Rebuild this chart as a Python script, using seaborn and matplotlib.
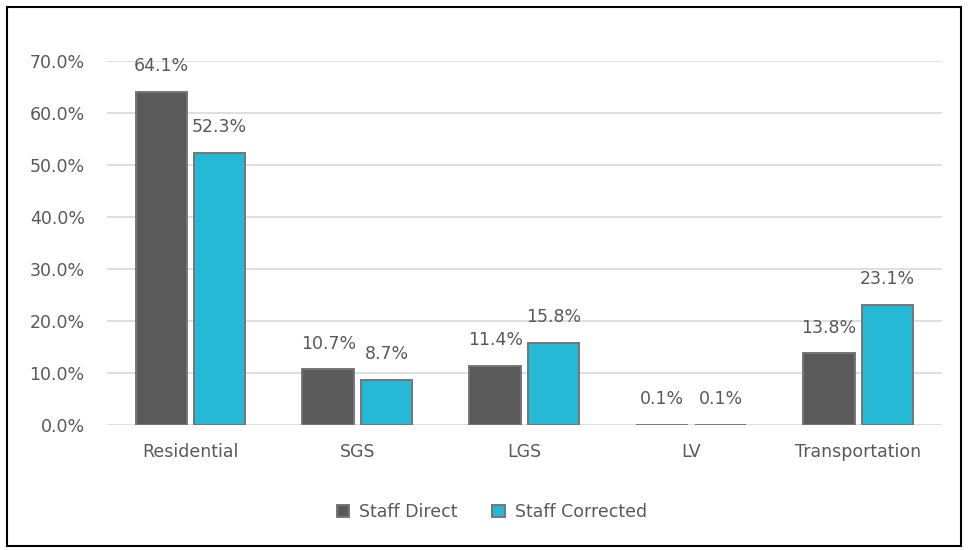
import matplotlib.pyplot as plt
import seaborn as sns
import pandas as pd
from matplotlib.patches import Rectangle
from matplotlib.ticker import FuncFormatter

categories = ["Residential", "SGS", "LGS", "LV", "Transportation"]
staff_direct = [64.1, 10.7, 11.4, 0.1, 13.8]
staff_corrected = [52.3, 8.7, 15.8, 0.1, 23.1]
series = ["Staff Direct", "Staff Corrected"]

df = pd.DataFrame({
    "cat": categories * 2,
    "val": staff_direct + staff_corrected,
    "series": [series[0]] * 5 + [series[1]] * 5,
})

sns.set_style("white")
plt.rcParams["font.family"] = ["DejaVu Sans"]
txt = "#595959"
fs = 12.5

fig = plt.figure(figsize=(9.68, 5.5), dpi=100)
ax = fig.add_axes([0.1105, 0.227, 0.8625, 0.662])

sns.barplot(data=df, x="cat", y="val", hue="series", order=categories,
            hue_order=series, palette=["#5a5a5a", "#25b9d5"],
            width=0.7, gap=0.12, edgecolor="#767676", linewidth=1.4,
            saturation=1, ax=ax, zorder=3)

for c in ax.containers:
    ax.bar_label(c, labels=[f"{v:.1f}%" for v in c.datavalues],
                 padding=12, fontsize=fs, color=txt)

ax.set_ylim(0, 70)
ax.set_yticks(range(0, 71, 10))
ax.yaxis.set_major_formatter(FuncFormatter(lambda v, p: f"{v:.1f}%"))
ax.grid(axis="y", color="#d9d9d9", linewidth=1.2, zorder=0)
ax.set_axisbelow(True)
for s in ax.spines.values():
    s.set_visible(False)
ax.set_xlabel("")
ax.set_ylabel("")
ax.tick_params(axis="both", length=0, labelsize=fs, labelcolor=txt)
ax.tick_params(axis="y", pad=16)
ax.tick_params(axis="x", pad=13)

leg = ax.legend(loc="upper center", bbox_to_anchor=(0.461, -0.17), ncol=2,
                frameon=False, fontsize=fs, handlelength=0.7, handleheight=0.7,
                columnspacing=2.0, handletextpad=0.6)
for t in leg.get_texts():
    t.set_color(txt)

fig.patches.append(Rectangle((0.007, 0.007), 0.986, 0.98, transform=fig.transFigure,
                             fill=False, edgecolor="black", linewidth=1.5))

fig.savefig("out.png", dpi=100)
